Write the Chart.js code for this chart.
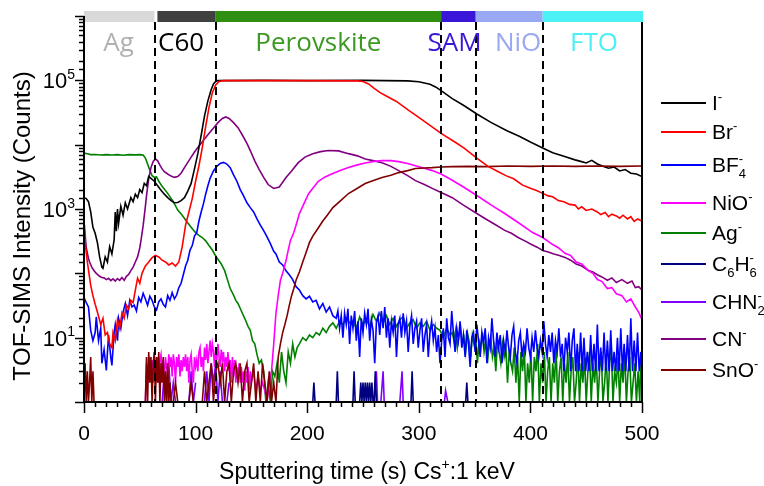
<!DOCTYPE html>
<html>
<head>
<meta charset="utf-8">
<script src="https://cdn.jsdelivr.net/npm/chart.js@4.4.0/dist/chart.umd.min.js"></script>
<style>
html, body { margin: 0; padding: 0; background: #fff; }
#wrap { width: 764px; height: 486px; }
</style>
</head>
<body>
<div id="wrap"><canvas id="c" width="764" height="486"></canvas></div>
<script>
// values, [time (s), counts]
const iMinus = [[0,1500],[2,1450],[4,1300],[6,900],[8,520],[10,420],[12,300],[14,180],[16,125],[17,120],[19,180],[21,150],[23,260],[25,200],[27,330],[28,900],[29,450],[30,1000],[31,600],[33,1100],[35,800],[37,1250],[39,1000],[42,1500],[44,1300],[46,1700],[48,1500],[50,2000],[52,1800],[54,2500],[56,2300],[58,3200],[60,3000],[63,2700],[66,2300],[69,1950],[72,1700],[75,1500],[78,1350],[81,1250],[84,1260],[87,1350],[90,1500],[93,1900],[96,2500],[99,4200],[102,7250],[105,14000],[108,28000],[111,48000],[114,72000],[116,88000],[118,96000],[120,99000],[160,100000],[200,99000],[250,100000],[290,98000],[300,95000],[305,91000],[310,87000],[315,79000],[320,69000],[325,60000],[330,52000],[340,41000],[352,30000],[365,22000],[379,16500],[390,13500],[400,11000],[411,8900],[420,7500],[430,6600],[440,5800],[445,5500],[450,5200],[455,5700],[460,5000],[465,4600],[470,4300],[475,4500],[480,3900],[485,4100],[490,3600],[495,3500],[500,3200]];
const brMinus = [[0,550],[1,300],[3,150],[6,65],[8,45],[10,33],[12,25],[15,16],[17,20],[19,11],[21,12],[23,8],[25,7],[26,12],[28,9],[30,19],[32,14],[34,24],[36,20],[38,32],[40,28],[42,38],[44,35],[46,55],[48,84],[50,70],[52,100],[55,130],[58,150],[61,175],[64,190],[67,180],[70,160],[73,150],[76,135],[79,145],[82,130],[85,150],[88,260],[91,560],[94,900],[97,1450],[100,2700],[103,4700],[106,9000],[109,19000],[112,38000],[115,64000],[118,85000],[121,96000],[125,99000],[200,99000],[245,98000],[250,96000],[255,88000],[260,75000],[265,65000],[270,58000],[280,47000],[290,35000],[300,26500],[310,20000],[320,15000],[333,10800],[340,9000],[352,6200],[362,4600],[370,3900],[378,3300],[385,2950],[393,2350],[400,2100],[405,1950],[411,1750],[416,1600],[420,1550],[425,1350],[430,1300],[435,1180],[440,1150],[443,1000],[446,1080],[450,950],[455,1000],[460,900],[463,820],[467,880],[470,760],[473,830],[477,780],[480,720],[483,800],[487,700],[490,760],[493,640],[496,700],[500,650]];
const bf4Minus = [[0,42],[2,35],[4,30],[6,13],[8,9],[10,12],[11,21],[13,9],[15,14],[16,4],[18,6.5],[20,3.1],[22,11],[24,5],[25,3.7],[27,12],[28,16],[30,9],[31,20],[33,14],[35,25],[37,34],[39,22],[41,38],[43,30],[45,32],[47,26],[49,42],[51,36],[53,49],[55,40],[57,32],[59,44],[61,38],[63,30],[65,27],[67,36],[69,40],[71,33],[73,30],[75,45],[77,38],[79,50],[81,40],[83,46],[85,60],[87,70],[89,95],[91,130],[93,160],[95,230],[97,270],[99,380],[101,430],[103,650],[105,900],[107,1200],[109,1700],[111,2300],[113,3000],[116,3900],[119,4600],[122,5100],[125,5300],[128,5000],[131,4400],[134,3400],[137,2700],[140,2000],[143,1600],[146,1250],[149,1050],[152,900],[155,700],[158,560],[161,460],[164,370],[167,290],[170,220],[172,200],[175,150],[178,135],[181,110],[184,95],[187,80],[190,62],[193,55],[196,45],[199,40],[202,44],[205,36],[208,38],[211,28],[214,34],[217,25],[220,30],[223,22],
  [226,20],[227.5,26],[229,14],[230.5,22],[232,10],[233.5,24],[235,16],[236.5,28],[238,8],[239.5,22],[241,14],[242.5,26],[244,9],[245.5,18],[247,5],[248.5,20],[250,12],[251.5,24],[253,16],[254.5,28],[256,9],[257.5,19],[259,13],[260.5,4],[262,17],[263.5,22],[265,11],[266.5,26],[268,14],[269.5,30],[271,10],[272.5,20],[274,7],[275.5,18],[277,12],[278.5,22],[280,5],[281.5,16],[283,20],[284.5,10],[286,24],[287.5,12],[289,18],[290.5,6],[292,15],[293.5,22],[295,8],[296.5,14],[298,18],[299.5,7],[301,13],[302.5,20],[304,6],[305.5,11],[307,16],[308.5,5],[310,12],[311.5,18],[313,9],[314.5,14],[316,6],[317.5,11],[319,4],[320.5,9],[322,14],[323.5,5],[325,20],[326.5,10],[328,8],[329.5,26],[331,12],[332.5,6],[334,14],[335.5,9],[337,18],[338.5,7],[340,11],[341.5,5],[343,13],[344.5,8],[346,3.5],[347.5,10],[349,12],[350.5,6],[352,16],[353.5,9],[355,5],[356.5,12],[358,8],[359.5,14],[361,4],[362.5,10],[364,7],[365.5,20],[367,9],[368.5,5],[370,12],[371.5,7],[373,11],[374.5,4],[376,9],[377.5,6],[379,13],[380.5,7],[382,5],[383.5,11],[385,15],[386.5,6],[388,4],[389.5,9],[391,12],[392.5,5],[394,8],[395.5,6],[397,14],[398.5,7],[400,5],[401.5,10],[403,6],[404.5,13],[406,7],[407.5,5],[409,9],[410.5,6],[412,18],[413.5,8],[415,5],[416.5,11],[418,6],[419.5,12],[421,4],[422.5,9],[424,6],[425.5,14],[427,5],[428.5,8],[430,3],[431.5,10],[433,6],[434.5,12],[436,3],[437.5,9],[439,14],[440.5,3],[442,8],[443.5,3],[445,12],[446.5,3],[448,10],[449.5,3],[451,6],[452.5,3],[454,11],[455.5,3],[457,8],[458.5,3],[460,16],[461.5,3],[463,7],[464.5,3],[466,12],[467.5,3],[469,9],[470.5,3],[472,13],[473.5,3],[475,6],[476.5,3],[478,10],[479.5,3],[481,14],[482.5,3],[484,8],[485.5,3],[487,11],[488.5,3],[490,20],[491.5,3],[493,9],[494.5,3],[496,12],[497.5,3],[499,6],[500,3]];
const nioMinus = [[55,1],[56,4],[57,2],[58,3.5],[59,5],[60,2.5],[61,4.5],[62,2],[63,5],[64,3.5],[65,2.5],[66,5],[67,2],[68,4.5],[69,5.5],[70,3],[71,4.5],[72,2],[73,5],[74,3.5],[75,2.5],[76,5.5],[77,3.5],[78,5],[79,2.5],[80,5.5],[81,4],[82,2],[83,5],[84,3.5],[85,5.5],[86,2.5],[87,4.5],[88,3],[89,5],[90,3.5],[91,5.5],[92,3],[93,5],[94,2],[95,4.5],[96,5.5],[97,3],[98,2],[99,5],[100,3.5],[101,4.5],[102,3],[103,6],[104,7],[105,3.5],[106,5],[107,3],[108,7],[109,4.5],[110,8],[111,4],[112,6],[113,9],[114,5],[115,8],[116,6],[117,3.5],[118,7],[119,4.5],[120,8],[121,5],[122,3.5],[123,6.5],[124,4.5],[125,6],[126,3],[127,5],[128,3.5],[129,6],[130,3],[131,4.5],[132,2],[133,5],[134,2.5],[135,4.5],[136,2],[137,3.5],[138,2.5],[139,4],[140,2],[141,3.5],[142,2],[143,3],[144,1.5],[145,3],[146,2],[147,3.5],[148,1.5],[149,3],[150,2],[152,3],[154,1.5],[156,2.5],[158,1.5],[160,2],[162,1.5],[164,1],[166,2],[168,3],[170,8],[172,24],[174,45],[176,78],[178,100],[181,158],[183,230],[185,325],[188,430],[190,560],[193,850],[197,1200],[201,1700],[205,2100],[210,2700],[216,3150],[223,3550],[230,4000],[237,4400],[245,4850],[252,5200],[260,5500],[267,5650],[275,5650],[282,5450],[290,5100],[297,4700],[305,4300],[312,3950],[320,3500],[330,2800],[340,2200],[352,1620],[365,1150],[377,850],[390,600],[402,430],[411,360],[420,280],[425,250],[431,205],[436,190],[441,150],[446,140],[452,110],[456,100],[460,80],[464,75],[469,58],[473,60],[477,48],[482,45],[486,36],[490,40],[494,30],[497,25],[500,19]];
const agMinus = [[0,7400],[3,7200],[6,7000],[10,7050],[15,6900],[20,7000],[25,6900],[30,7000],[35,6850],[40,7000],[45,6950],[50,7000],[53,6900],[55,6200],[57,5000],[59,4000],[61,3300],[63,3100],[65,3150],[67,2700],[70,2250],[75,1750],[80,1300],[84,960],[88,800],[92,640],[96,520],[98,470],[100,430],[103,390],[106,360],[109,320],[112,270],[115,230],[117,200],[120,165],[123,140],[126,110],[129,75],[131,58],[134,46],[136,38],[138,34],[141,26],[144,20],[147,15],[149,13],[151,9],[153,8],[155,5.5],[157,4],[159,4.5],[161,3],[163,1],[165,2],[167,1],[169,3],[171,2.5],[173,4],[175,2],[177,6],[179,3],[181,2],[183,6],[185,4],[187,8],[189,5],[191,7],[193,8],[196,10],[199,9],[202,11],[205,10],[208,12],[211,11],[214,14],[217,12],[220,15],[223,17],[226,14],[229,18],[232,16],[235,20],[238,17],[241,18],[244,14],[247,21],[250,16],[253,19],[256,15],[259,23],[262,18],[265,24],[268,17],[271,22],[274,16],[277,20],[280,15],[283,19],[286,21],[289,14],[292,17],[295,19],[298,14],[301,17],[304,15],[307,18],[310,13],[313,16],[316,14],[319,13],[322,10],[325,14],[328,11],
  [330,12],[331.5,9],[333,13],[334.5,7],[336,11],[337.5,14],[339,8],[340.5,10],[342,6],[343.5,12],[345,9],[346.5,5],[348,11],[349.5,8],[351,10],[352.5,4],[354,9],[355.5,7],[357,12],[358.5,6],[360,9],[361.5,4],[363,8],[364.5,10],[366,5],[367.5,7],[369,3],[370.5,9],[372,6],[373.5,4],[375,8],[376.5,5],[378,7],[379.5,2],[381,6],[382.5,4],[384,3],[385.5,7],[387,2],[388.5,5],[390,1],[391.5,6],[393,3],[394.5,7],[396,1],[397.5,4],[399,2],[400.5,6],[402,1],[403.5,5],[405,3],[406.5,8],[408,1],[409.5,4],[411,2],[412.5,6],[414,1],[415.5,3],[417,5],[418.5,1],[420,4],[421.5,2],[423,7],[424.5,1],[426,3],[427.5,5],[429,1],[430.5,4],[432,2],[433.5,6],[435,1],[436.5,3],[438,5],[439.5,1],[441,2],[442.5,6],[444,1],[445.5,4],[447,2],[448.5,5],[450,1],[451.5,3],[453,6],[454.5,1],[456,4],[457.5,2],[459,5],[460.5,1],[462,3],[463.5,6],[465,1],[466.5,2],[468,5],[469.5,1],[471,4],[472.5,7],[474,1],[475.5,3],[477,2],[478.5,5],[480,1],[481.5,4],[483,2],[484.5,6],[486,1],[487.5,3],[489,5],[490.5,1],[492,2],[493.5,4],[495,1],[496.5,3],[498,1],[499,6],[500,2]];
const c6h6Minus = [[15,1],[17,1],[19,1],[20,null],[109,1],[111,1],[113,1],[114,null],[205,1],[206,2],[207,1],[208,null],[226,1],[227,3],[228,1],[229,null],[241,1],[242,3],[243,1],[244,null],[247,1],[248,2],[249,1],[250,2],[251,1],[252,2],[253,1],[254,2],[255,1],[256,2],[257,1],[258,2],[259,1],[260,1],[261,3],[262,1],[263,null],[293,1],[294,3],[295,1],[296,null],[342,1],[343,2],[344,1],[345,null]];
const chn2Minus = [[70,1],[72,3],[74,1],[76,4],[78,1],[80,2],[82,1],[83,null],[94,1],[96,3],[98,1],[100,2],[101,null],[108,1],[110,3],[112,1],[114,4],[116,2],[118,4],[120,1],[122,3],[124,1],[125,null],[128,1],[130,2],[131,null],[260,1],[262,3],[263,1],[264,null],[266,1],[268,3],[269,1],[270,null],[283,1],[285,3],[286,1],[287,null],[323,1],[324,1.5],[326,1],[327,null]];
const cnMinus = [[0,660],[1,400],[2,250],[4,170],[5,150],[7,125],[9,110],[11,100],[14,90],[16,86],[18,85],[20,80],[22,84],[24,77],[26,82],[28,76],[30,83],[32,78],[34,86],[36,78],[38,90],[40,96],[42,110],[44,125],[46,150],[48,180],[50,250],[51,320],[53,550],[55,1100],[56,1600],[58,3000],[60,4400],[62,5500],[64,6000],[66,5600],[68,4800],[70,4200],[72,3800],[75,3500],[78,3250],[81,3100],[84,3200],[87,3600],[90,4400],[93,5300],[96,6400],[99,7700],[102,9000],[105,10500],[108,12300],[111,14300],[114,16500],[117,19000],[120,22000],[124,25500],[127,27000],[130,25500],[134,22000],[138,18400],[142,14000],[146,10500],[149,8100],[153,5600],[157,4100],[161,3100],[165,2400],[170,2090],[175,2200],[181,3080],[186,3900],[192,5250],[198,6400],[205,7250],[212,7800],[219,8100],[228,8000],[237,7250],[245,6700],[252,6000],[260,5600],[267,5250],[275,4600],[282,3950],[290,3300],[297,2760],[305,2400],[312,2090],[320,1800],[330,1500],[340,1150],[352,850],[360,700],[368,580],[377,465],[383,420],[389,360],[395,320],[401,280],[406,255],[411,227],[416,215],[421,200],[426,190],[431,177],[436,160],[441,140],[446,130],[452,111],[456,105],[460,95],[464,88],[469,78],[473,85],[477,72],[482,80],[487,70],[491,76],[494,60],[497,62],[500,55]];
const snoMinus = [[0,1],[1,4],[2,1],[3,3],[4,1],[5,2],[6,5],[7,1],[8,3],[9,1],[10,null],[54,null],[55,1],[56,5],[57,1],[58,6],[59,2],[60,5],[61,1],[62,4],[63,6],[64,1],[65,5],[66,2],[67,6],[68,1],[69,4],[70,2],[71,5],[72,1],[73,3],[74,1],[75,4],[76,1],[77,2],[78,1],[80,1],[82,2],[84,1],[86,null],[93,null],[94,1],[96,2],[98,1],[100,null],[105,null],[106,1],[108,3],[110,1],[112,2],[114,4],[116,1],[118,3],[120,4],[122,2],[124,4],[126,1],[128,3],[130,4],[132,1],[134,3],[136,4],[138,2],[140,4],[142,1],[144,3],[146,4],[148,1],[150,2],[152,4],[154,1],[156,3],[158,1],[160,4],[162,2],[164,1],[166,3],[168,1],[170,2],[172,1],[174,5],[176,8],[178,12],[180,16],[182,22],[184,32],[186,45],[188,58],[190,78],[193,105],[196,150],[199,210],[202,300],[205,380],[209,480],[214,650],[218,800],[223,1050],[230,1350],[237,1740],[245,2100],[252,2490],[260,2800],[267,3080],[275,3350],[282,3680],[290,3950],[297,4250],[305,4350],[312,4400],[320,4500],[330,4550],[345,4600],[360,4550],[380,4650],[400,4600],[420,4650],[440,4600],[460,4650],[480,4600],[500,4650]];

const seriesNames = ['I⁻', 'Br⁻', 'BF₄⁻', 'NiO⁻', 'Ag⁻', 'C₆H₆⁻', 'CHN₂⁻', 'CN⁻', 'SnO⁻'];
const seriesData = [iMinus, brMinus, bf4Minus, nioMinus, agMinus, c6h6Minus, chn2Minus, cnMinus, snoMinus];
const seriesColors = ['#000000', '#ff0000', '#0000ff', '#ff00ff', '#008000', '#000080', '#8000ff', '#800080', '#800000'];

// layers on top of the plot
const layerNames = ['Ag', 'C60', 'Perovskite', 'SAM', 'NiO', 'FTO'];
const layerEdges = [0, 64, 118, 320, 351, 411, 500];
const layerLabelAt = [31, 87, 210, 332, 389, 457];
const layerBarColors = ['#d9d9d9', '#404040', '#2f8f10', '#3a16d8', '#99a8f3', '#4cf1f6'];
const layerTextColors = ['#b0b0b0', '#000000', '#3c9a22', '#3a16d8', '#9aa8f0', '#4cf0f4'];
const dashedAt = [64, 118, 320, 351, 411];

const xTickLabels = [0, 100, 200, 300, 400, 500];
const yTickLabels = [1, 3, 5]; // exponents of 10 that carry a label

const FONT = '"Liberation Sans", Arial, sans-serif';

// draws text with ₀-₉ subscripts and ⁻ ⁺ ¹ ³ ⁵ superscripts
function drawRich(ctx, str, x, y, size, align) {
  const subs = '₀₁₂₃₄₅₆₇₈₉';
  const sups = { '⁻': '-', '⁺': '+', '¹': '1', '³': '3', '⁵': '5' };
  const small = Math.round(size * 0.62);
  const parts = [];
  for (const ch of str) {
    const si = subs.indexOf(ch);
    if (si >= 0) parts.push({ kind: 'sub', t: String(si) });
    else if (sups[ch]) parts.push({ kind: 'sup', t: sups[ch] });
    else parts.push({ kind: 'n', t: ch });
  }
  // sub + sup next to each other are stacked
  const groups = [];
  for (const p of parts) {
    const last = groups[groups.length - 1];
    if (p.kind !== 'n' && last && last.kind === 's' && !last[p.kind]) { last[p.kind] = p.t; continue; }
    if (p.kind === 'n') groups.push({ kind: 'n', t: p.t });
    else groups.push({ kind: 's', [p.kind]: p.t });
  }
  const wOf = (g) => {
    if (g.kind === 'n') { ctx.font = size + 'px ' + FONT; return ctx.measureText(g.t).width; }
    ctx.font = small + 'px ' + FONT;
    return Math.max(g.sub ? ctx.measureText(g.sub).width : 0, g.sup ? ctx.measureText(g.sup).width : 0);
  };
  let total = 0;
  groups.forEach((g) => { total += wOf(g); });
  let cx = align === 'center' ? x - total / 2 : align === 'right' ? x - total : x;
  ctx.textAlign = 'left';
  ctx.textBaseline = 'alphabetic';
  groups.forEach((g) => {
    const w = wOf(g);
    if (g.kind === 'n') {
      ctx.font = size + 'px ' + FONT;
      ctx.fillText(g.t, cx, y);
    } else {
      ctx.font = small + 'px ' + FONT;
      if (g.sup) ctx.fillText(g.sup, cx, y - size * 0.42);
      if (g.sub) ctx.fillText(g.sub, cx, y + size * 0.3);
    }
    cx += w;
  });
}

const decorations = {
  id: 'decorations',
  afterDatasetsDraw(chart) {
    const { ctx, chartArea: a } = chart;
    const xs = chart.scales.x;
    ctx.save();
    ctx.strokeStyle = '#000';
    ctx.lineWidth = 2;
    ctx.setLineDash([8, 5]);
    dashedAt.forEach((t) => {
      const px = Math.round(xs.getPixelForValue(t));
      ctx.beginPath();
      ctx.moveTo(px, a.top + 6);
      ctx.lineTo(px, a.bottom);
      ctx.stroke();
    });
    ctx.restore();
  },
  afterDraw(chart) {
    const { ctx, chartArea: a } = chart;
    const xs = chart.scales.x;
    const ys = chart.scales.y;
    ctx.save();

    // coloured layer bars and names
    for (let i = 0; i < layerNames.length; i++) {
      const x0 = xs.getPixelForValue(layerEdges[i]) + (i === 1 ? 2 : 0);
      const x1 = xs.getPixelForValue(layerEdges[i + 1]) - (i === 0 ? 1 : 0) + (i === layerNames.length - 1 ? 1 : 0);
      ctx.fillStyle = layerBarColors[i];
      ctx.fillRect(x0, a.top - 5, x1 - x0, 11);
      ctx.fillStyle = layerTextColors[i];
      ctx.font = '26px "Open Sans", sans-serif';
      ctx.textAlign = 'center';
      ctx.textBaseline = 'alphabetic';
      ctx.fillText(layerNames[i], xs.getPixelForValue(layerLabelAt[i]), a.top + 35);
    }

    // frame
    ctx.strokeStyle = '#000';
    ctx.lineWidth = 2;
    ctx.beginPath();
    ctx.moveTo(a.left, a.top);
    ctx.lineTo(a.left, a.bottom);
    ctx.lineTo(a.right, a.bottom);
    ctx.lineTo(a.right, a.top + 6);
    ctx.stroke();

    // tick marks
    ctx.lineWidth = 1.5;
    ys.ticks.forEach((t) => {
      const lg = Math.log10(t.value);
      const major = Math.abs(lg - Math.round(lg)) < 1e-9;
      const py = Math.round(ys.getPixelForValue(t.value)) + 0.5;
      ctx.beginPath();
      ctx.moveTo(a.left - (major ? 9 : 5), py);
      ctx.lineTo(a.left, py);
      ctx.stroke();
    });
    xs.ticks.forEach((t) => {
      const major = t.value % 100 === 0;
      const px = Math.round(xs.getPixelForValue(t.value)) + 0.5;
      ctx.beginPath();
      ctx.moveTo(px, a.bottom);
      ctx.lineTo(px, a.bottom + (major ? 11 : 5));
      ctx.stroke();
    });

    // tick labels
    ctx.fillStyle = '#000';
    xTickLabels.forEach((v) => {
      drawRich(ctx, String(v), xs.getPixelForValue(v), a.bottom + 38, 21, 'center');
    });
    const supDigits = { 1: '¹', 3: '³', 5: '⁵' };
    yTickLabels.forEach((e) => {
      drawRich(ctx, '10' + supDigits[e], a.left - 9, ys.getPixelForValue(Math.pow(10, e)) + 8, 22, 'right');
    });

    // axis titles
    drawRich(ctx, 'Sputtering time (s) Cs⁺:1 keV', 367, 479, 23, 'center');
    ctx.save();
    ctx.translate(30, 226);
    ctx.rotate(-Math.PI / 2);
    drawRich(ctx, 'TOF-SIMS Intensity (Counts)', 0, 0, 24, 'center');
    ctx.restore();

    // legend
    const legendY = [103, 132, 165, 203, 233, 264, 302, 339, 370];
    seriesNames.forEach((name, i) => {
      ctx.strokeStyle = seriesColors[i];
      ctx.lineWidth = 2;
      ctx.beginPath();
      ctx.moveTo(661, legendY[i]);
      ctx.lineTo(706, legendY[i]);
      ctx.stroke();
      ctx.fillStyle = '#000';
      drawRich(ctx, name, 712, legendY[i] + 7, 21, 'left');
    });
    ctx.restore();
  }
};

const drawOrder = [3, 1, 5, 4, 7, 8, 9, 6, 2];

new Chart(document.getElementById('c'), {
  type: 'line',
  data: {
    datasets: seriesData.map((d, i) => ({
      label: seriesNames[i],
      data: d.map((p) => ({ x: p[0], y: p[1] })),
      borderColor: seriesColors[i],
      backgroundColor: seriesColors[i],
      borderWidth: 1.6,
      pointRadius: 0,
      tension: 0,
      spanGaps: false,
      order: drawOrder[i]
    }))
  },
  options: {
    responsive: false,
    animation: false,
    events: [],
    layout: { padding: { left: 84, right: 122, top: 16, bottom: 84 } },
    scales: {
      x: {
        type: 'linear', min: 0, max: 500,
        ticks: { display: false, stepSize: 10, maxTicksLimit: 100 },
        grid: { display: false, drawTicks: false },
        border: { display: false }
      },
      y: {
        type: 'logarithmic', min: 1, max: 1e6,
        ticks: { display: false },
        grid: { display: false, drawTicks: false },
        border: { display: false }
      }
    },
    plugins: { legend: { display: false }, tooltip: { enabled: false } }
  },
  plugins: [decorations]
});
</script>
</body>
</html>
